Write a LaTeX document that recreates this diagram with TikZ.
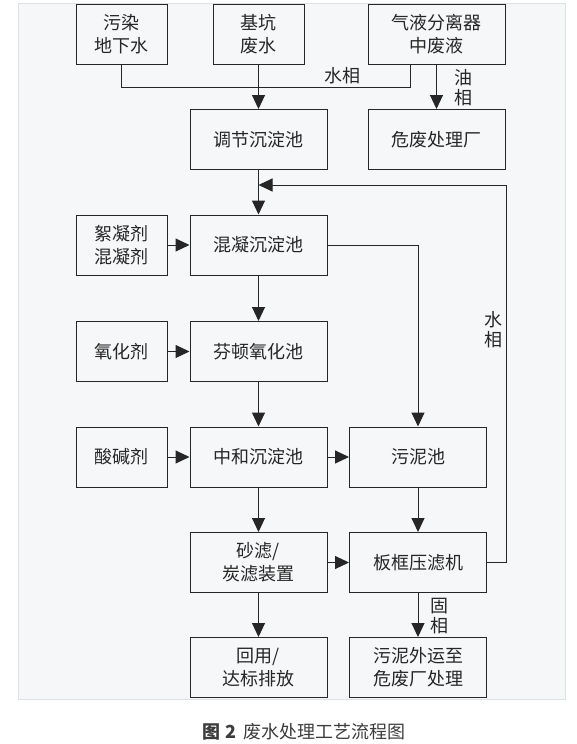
\documentclass[tikz,border=0pt]{standalone}
\usepackage{fontspec}
\setmainfont{Noto Sans CJK SC}
\usetikzlibrary{arrows.meta}
\definecolor{panel}{RGB}{246,247,248}
\definecolor{panelrule}{RGB}{222,226,230}
\definecolor{boxline}{RGB}{38,38,38}
\definecolor{captiontext}{RGB}{60,60,60}

\begin{document}
\begin{tikzpicture}[x=1pt, y=-1pt,
        unit/.style={draw=boxline, line width=1pt, align=center, inner sep=0pt,
            minimum width=137pt, minimum height=60pt, text=boxline,
            font=\fontsize{18}{23}\selectfont},
        small/.style={unit, minimum width=91pt},
        flow/.style={draw=boxline, line width=1pt, -{Triangle[length=14pt, width=13pt]}},
        pipe/.style={draw=boxline, line width=1pt},
        phase/.style={align=center, inner sep=0pt, text=boxline,
            font=\fontsize{18}{20}\selectfont}]
    \useasboundingbox (0,0) rectangle (577,744);
    \fill[panel, draw=panelrule] (18,3) rectangle (565,699);

    \node[small] (wuran) at (121.5,34) {污染\\地下水};
    \node[small] (jikeng) at (258.5,34) {基坑\\废水};
    \node[unit] (qiye) at (436.5,34) {气液分离器\\中废液};
    \node[unit] (tiaojie) at (258.5,139.5) {调节沉淀池};
    \node[unit] (weifei) at (436.5,139.5) {危废处理厂};

    \node[small] (xuning) at (121.5,245) {絮凝剂\\混凝剂};
    \node[unit] (hunning) at (258.5,245) {混凝沉淀池};
    \node[small] (yanghua) at (121.5,351.5) {氧化剂};
    \node[unit] (fenton) at (258.5,351.5) {芬顿氧化池};
    \node[small] (suanjian) at (121.5,457) {酸碱剂};
    \node[unit] (zhonghe) at (258.5,457) {中和沉淀池};
    \node[unit] (wuni) at (418,457) {污泥池};
    \node[unit] (shalv) at (258.5,562.5) {砂滤/\\炭滤装置};
    \node[unit] (banku) at (418,562.5) {板框压滤机};
    \node[unit] (huiyong) at (258.5,667.5) {回用/\\达标排放};
    \node[unit] (waiyun) at (418,667.5) {污泥外运至\\危废厂处理};

    \coordinate (water) at (410,87);
    \coordinate (back) at (506,185);

    \draw[pipe] (wuran.south) |- (water) -- (water |- qiye.south);
    \draw[flow] (jikeng) -- (tiaojie);
    \draw[flow] (qiye) -- (weifei);
    \draw[flow] (tiaojie) -- (hunning);
    \draw[flow] (banku.east) -| (back) -- (back -| tiaojie.south);
    \draw[flow] (xuning) -- (hunning);
    \draw[flow] (hunning.east) -| (wuni.north);
    \draw[flow] (hunning) -- (fenton);
    \draw[flow] (yanghua) -- (fenton);
    \draw[flow] (fenton) -- (zhonghe);
    \draw[flow] (suanjian) -- (zhonghe);
    \draw[flow] (zhonghe) -- (wuni);
    \draw[flow] (zhonghe) -- (shalv);
    \draw[flow] (wuni) -- (banku);
    \draw[flow] (shalv) -- (banku);
    \draw[flow] (shalv) -- (huiyong);
    \draw[flow] (banku) -- (waiyun);

    \node[phase] (shuixiang) at (342,76) {水相};
    \node[phase] (youxiang) at (463,87.5) {油\\相};
    \node[phase] (huixiang) at (493,330) {水\\相};
    \node[phase] (guxiang) at (439,616) {固\\相};

    \node[text=captiontext, font=\fontsize{18}{20}\selectfont] (caption) at (304,732)
        {\textbf{图 2}\hspace{7pt}废水处理工艺流程图};
\end{tikzpicture}
\end{document}
